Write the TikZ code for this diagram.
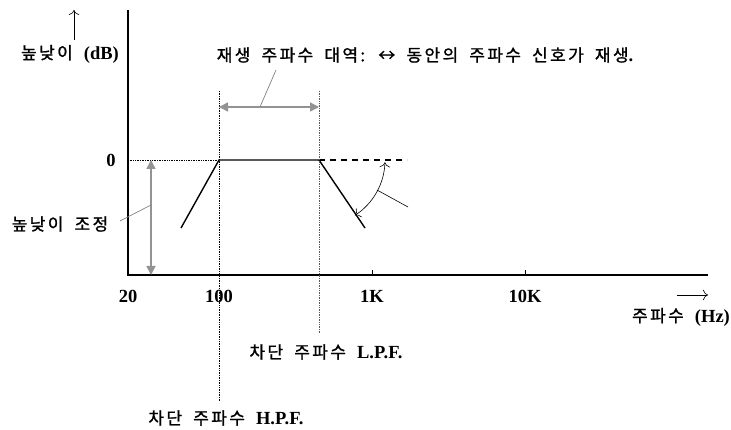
\documentclass[tikz,border=0pt]{standalone}
\usepackage{fontspec}
\setmainfont{Liberation Serif}
\newfontfamily\kr[LetterSpace=14, WordSpace=1.8, FakeBold=1.2]{Noto Sans CJK KR}
\usetikzlibrary{arrows.meta}
\begin{document}
\begin{tikzpicture}[
    x=1pt, y=-1pt,
    axis/.style={line width=1.5pt},
    resp/.style={line width=1.4pt},
    guide/.style={densely dotted, line width=0.7pt},
    adj/.style={gray!85, line width=1.5pt, {Triangle[length=9pt,width=9pt]}-{Triangle[length=9pt,width=9pt]}},
    lead/.style={gray, line width=0.7pt},
    lbl/.style={font=\fontsize{17}{19}\selectfont, inner sep=0pt},
    num/.style={font=\fontsize{18.5}{20}\selectfont\bfseries, inner sep=0pt},
]
\useasboundingbox (0,0) rectangle (731,430);
% axes
\coordinate (org) at (128,275);
\coordinate (ytop) at (128,10);
\coordinate (xend) at (708,275);
\draw[axis] (ytop) -- (org) -- (xend);
\draw[line width=0.8pt] (372,270) -- (372,275) (525,270) -- (525,275);
\draw[-{To[length=5pt]}, line width=0.6pt] (74,40) -- (74,10);
\draw[-{To[length=5pt]}, line width=0.6pt] (677,295) -- (708,295);
\node[lbl] (ylab) at (70,54) {{\kr 높낮이 }{\fontsize{18.5}{20}\selectfont\bfseries(dB)}};
\node[lbl] (xlab) at (681,317) {{\kr 주파수 }{\fontsize{18.5}{20}\selectfont\bfseries(Hz)}};
\node[num] (zero) at (111,160) {0};
\node[num] (f20)  at (128,296) {20};
\node[num] (f100) at (219,296) {100};
\node[num] (f1k)  at (372,296) {1K};
\node[num] (f10k) at (525,296) {10K};
% response curve
\coordinate (lo1) at (181,228);
\coordinate (hpf) at (219,160);
\coordinate (lpf) at (319,160);
\coordinate (lo2) at (365,228);
\draw[guide] (org |- hpf) -- (hpf);
\draw[resp] (lo1) -- (hpf) -- (lpf) -- (lo2);
\draw[dashed, line width=1.2pt, dash pattern=on 6pt off 5pt] (lpf) -- (407,160);
% cut-off frequencies
\node[lbl] (hpflab) at (226,418) {{\kr 차단 주파수 }{\fontsize{18.5}{20}\selectfont\bfseries H.P.F.}};
\node[lbl] (lpflab) at (326,352) {{\kr 차단 주파수 }{\fontsize{18.5}{20}\selectfont\bfseries L.P.F.}};
\draw[guide] (219,91) -- (219,402);
\draw[guide, gray!70!black] (319,91) -- (319,334);
% pass band
\node[lbl] (title) at (425,55) {{\kr 재생 주파수 대역: ↔ 동안의 주파수 신호가 재생}{\fontsize{18.5}{20}\selectfont\bfseries.}};
\draw[adj] (219,107) -- (319,107);
\draw[lead] (260,107) -- (276,70);
% level adjust
\node[lbl] (levlab) at (60,224) {\kr 높낮이 조정};
\draw[adj] (151,160) -- (151,275);
\draw[lead] (151,205) -- (120,221);
% slope
\draw[{To[length=5pt]}-{To[length=5pt]}, line width=0.6pt] (lpf) ++(2:66) arc[start angle=2, end angle=57, radius=66];
\draw[line width=0.6pt] (377,190) -- (408,207);
\end{tikzpicture}
\end{document}
